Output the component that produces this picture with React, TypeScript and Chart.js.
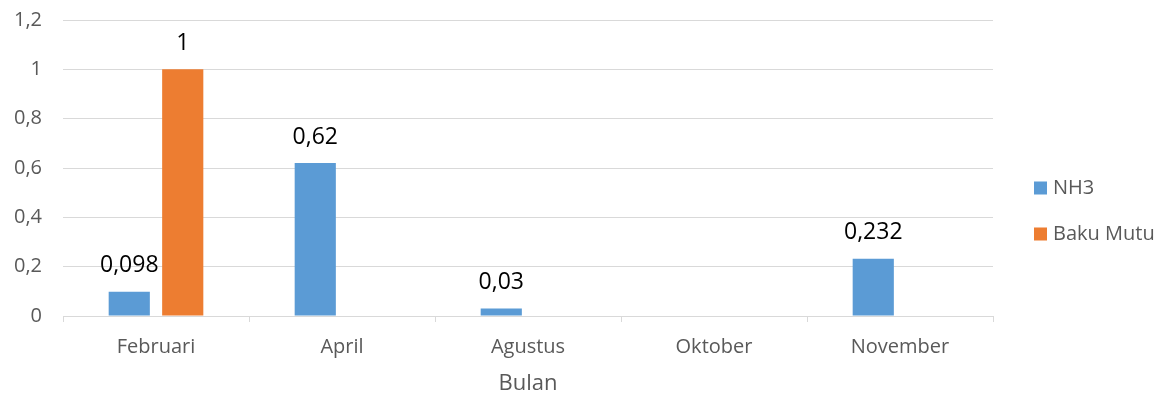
import React, { useEffect, useRef } from "react";
import { Chart, registerables } from "chart.js";

Chart.register(...registerables);

const categories = ["Februari", "April", "Agustus", "Oktober", "November"];
const nh3Values: (number | null)[] = [0.098, 0.62, 0.03, null, 0.232];
const bakuMutuValues: (number | null)[] = [1, null, null, null, null];
const seriesNames = ["NH3", "Baku Mutu"];
const seriesColors = ["#5b9bd5", "#ed7d31"];
const yMin = 0;
const yMax = 1.2;
const yStep = 0.2;
const xTitle = "Bulan";

const FONT = "'Open Sans', 'Noto Sans', sans-serif";
const TEXT_GRAY = "#595959";
const GRID = "#d9d9d9";

const fmt = (v: number) => String(Number(v.toFixed(3))).replace(".", ",");

const dataLabelPlugin = {
  id: "dataLabels",
  afterDatasetsDraw(chart: any) {
    const ctx = chart.ctx;
    ctx.save();
    ctx.font = `23px ${FONT}`;
    ctx.fillStyle = "#000000";
    ctx.textAlign = "center";
    ctx.textBaseline = "middle";
    chart.data.datasets.forEach((ds: any, di: number) => {
      const meta = chart.getDatasetMeta(di);
      meta.data.forEach((el: any, i: number) => {
        const v = ds.data[i];
        if (v === null || v === undefined) return;
        ctx.fillText(fmt(v), el.x, el.y - 26);
      });
    });
    ctx.restore();
  },
};

const legendPlugin = {
  id: "sideLegend",
  afterDraw(chart: any) {
    const ctx = chart.ctx;
    const area = chart.chartArea;
    ctx.save();
    ctx.font = `20px ${FONT}`;
    ctx.textBaseline = "middle";
    ctx.textAlign = "left";
    const centers = [area.top + 168, area.top + 214];
    chart.data.datasets.forEach((ds: any, i: number) => {
      const cy = centers[i];
      const bx = area.right + 41;
      ctx.fillStyle = ds.backgroundColor;
      ctx.fillRect(bx, cy - 6.5, 13, 13);
      ctx.fillStyle = TEXT_GRAY;
      ctx.fillText(ds.label, bx + 19, cy);
    });
    ctx.restore();
  },
};

export default function App() {
  const ref = useRef<HTMLCanvasElement>(null);
  useEffect(() => {
    if (!ref.current) return;
    const chart = new Chart(ref.current, {
      type: "bar",
      data: {
        labels: categories,
        datasets: [
          {
            label: seriesNames[0],
            data: nh3Values,
            backgroundColor: seriesColors[0],
            categoryPercentage: 0.575,
            barPercentage: 0.77,
          },
          {
            label: seriesNames[1],
            data: bakuMutuValues,
            backgroundColor: seriesColors[1],
            categoryPercentage: 0.575,
            barPercentage: 0.77,
          },
        ],
      },
      options: {
        responsive: false,
        animation: false,
        layout: { padding: { top: 20, right: 176, left: 0, bottom: 0 } },
        plugins: {
          legend: { display: false },
          tooltip: { enabled: false },
          title: { display: false },
        },
        scales: {
          x: {
            offset: true,
            grid: {
              display: true,
              offset: true,
              drawOnChartArea: false,
              drawTicks: true,
              tickLength: 6,
              color: GRID,
            },
            border: { display: true, color: GRID, width: 1 },
            ticks: {
              color: TEXT_GRAY,
              font: { family: FONT, size: 20 },
              padding: 13,
              maxRotation: 0,
            },
            title: {
              display: true,
              text: xTitle,
              color: TEXT_GRAY,
              font: { family: FONT, size: 22 },
              padding: { top: 0, bottom: 4 },
            },
            afterFit(scale: any) {
              scale.height = 85;
              scale.paddingLeft = 0;
              scale.paddingRight = 0;
            },
          },
          y: {
            min: yMin,
            max: yMax,
            grid: { color: GRID, drawTicks: false },
            border: { display: false },
            ticks: {
              stepSize: yStep,
              color: TEXT_GRAY,
              font: { family: FONT, size: 20 },
              padding: 21,
              callback: (v: any) => fmt(Number(v)),
            },
            afterFit(scale: any) {
              scale.width = 63;
              scale.paddingTop = 0;
              scale.paddingBottom = 0;
            },
          },
        },
      },
      plugins: [dataLabelPlugin, legendPlugin],
    });
    return () => chart.destroy();
  }, []);
  return (
    <div style={{ position: "fixed", left: 0, top: 0, width: 1169, height: 401, background: "#fff" }}>
      <canvas ref={ref} width={1169} height={401} style={{ display: "block" }} />
    </div>
  );
}
